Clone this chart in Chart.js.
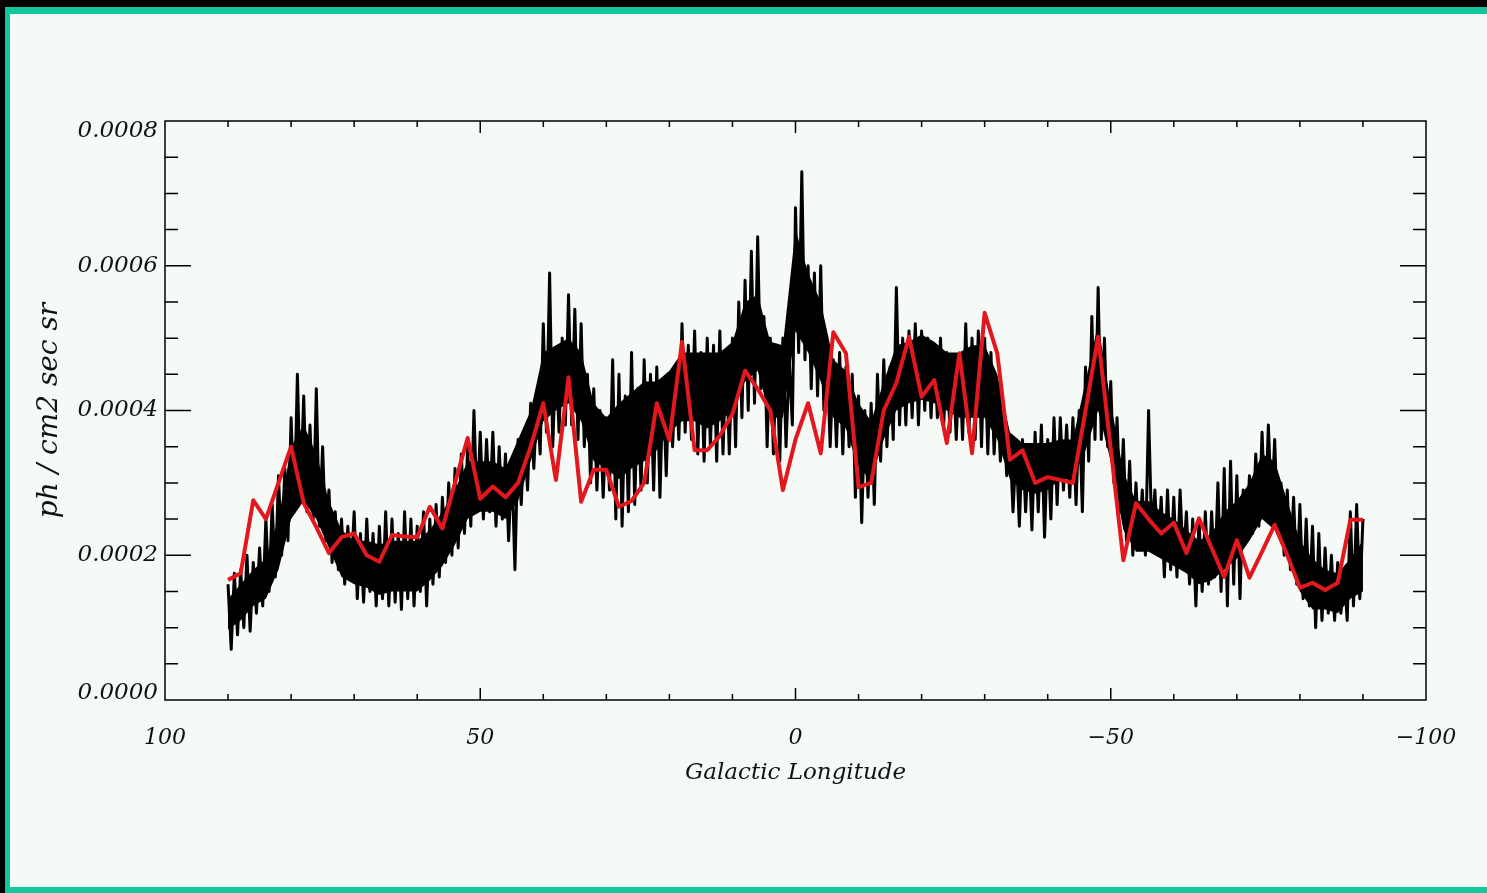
<!DOCTYPE html>
<html lang="en">
<head>
<meta charset="UTF-8">
<title>Galactic Longitude profile</title>
<script src="https://cdn.jsdelivr.net/npm/chart.js"></script>
<style>
  html, body { margin: 0; padding: 0; background: #000; overflow: hidden; }
  .frame {
    position: absolute; left: 5px; top: 7px;
    width: 1482px; height: 886px;
    box-sizing: border-box;
    background: #f5faf6;
    border-top: 7px solid #12c79b;
    border-left: 5px solid #12c79b;
    border-bottom: 6px solid #12c79b;
  }
  #profile { position: absolute; left: 0; top: 0; }
</style>
</head>
<body>
<div class="frame"></div>
<canvas id="profile" width="1487" height="893"></canvas>
<script>
// intensities are in units of 1e-4 ph / cm2 sec sr
const UNIT = 1e-4;

// raw profile, upper and lower swing per degree, l = 90 ... -90
const blackHi = [
  1.6, 1.75, 1.8, 2.0, 1.9, 2.1, 2.5, 2.7, 3.1, 3.2,
  3.9, 4.5, 4.2, 3.8, 4.3, 3.5, 2.9, 2.6, 2.5, 2.4,
  2.6, 2.3, 2.5, 2.3, 2.4, 2.6, 2.5, 2.3, 2.6, 2.5,
  2.4, 2.6, 2.5, 2.7, 2.8, 3.0, 3.2, 3.4, 3.5, 4.0,
  3.7, 3.6, 3.7, 3.5, 3.4, 3.3, 3.6, 3.7, 4.1, 4.2,
  5.2, 5.9, 4.8, 5.0, 5.6, 5.4, 5.2, 4.5, 4.3, 4.0,
  3.9, 4.7, 4.5, 4.2, 4.8, 4.3, 4.7, 4.5, 4.6, 4.4,
  4.5, 4.5, 5.2, 4.9, 5.1, 4.8, 5.0, 4.9, 5.1, 4.8,
  5.0, 5.5, 5.8, 6.2, 6.4, 5.3, 5.0, 4.9, 5.0, 4.7,
  6.8, 7.3, 6.0, 5.9, 6.0, 4.8, 4.7, 4.8, 4.6, 4.5,
  4.2, 4.0, 4.1, 4.5, 4.7, 4.6, 5.7, 5.0, 5.1, 5.2,
  5.1, 5.0, 4.9, 5.0, 4.8, 4.6, 4.7, 5.2, 5.0, 5.1,
  5.0, 4.8, 4.3, 4.0, 3.6, 3.5, 3.6, 3.5, 3.7, 3.8,
  3.6, 3.9, 3.9, 3.8, 3.9, 4.0, 4.6, 5.3, 5.7, 5.0,
  4.4, 3.9, 3.6, 3.3, 3.0, 2.9, 4.0, 2.9, 2.8, 2.9,
  2.8, 2.9, 2.6, 2.5, 2.5, 2.6, 2.6, 3.0, 3.2, 3.3,
  3.1, 2.9, 3.1, 3.4, 3.7, 3.8, 3.6, 3.0, 2.9, 2.8,
  2.7, 2.5, 2.4, 2.3, 2.1, 2.0, 1.9, 1.8, 2.6, 2.7,
  2.5
];
const blackLo = [
  0.7, 0.9, 1.0, 0.95, 1.2, 1.3, 1.5, 1.7, 2.0, 2.2,
  2.6, 2.8, 2.6, 2.5, 2.4, 2.2, 1.9, 1.8, 1.6, 1.7,
  1.4, 1.35, 1.5, 1.3, 1.4, 1.3, 1.35, 1.25, 1.4, 1.3,
  1.5, 1.3, 1.6, 1.7, 1.9, 2.0, 2.1, 2.3, 2.4, 2.6,
  2.5, 2.6, 2.4, 2.5, 2.2, 1.8, 2.7, 2.9, 3.2, 3.4,
  3.7, 3.5, 3.7, 3.8, 3.8, 3.6, 3.5, 3.0, 2.9, 2.8,
  2.9, 2.5, 2.4, 2.6, 2.7, 2.9, 3.0, 2.9, 2.8, 3.1,
  3.5, 3.6, 3.7, 3.6, 3.4, 3.3, 3.5, 3.3, 3.4, 3.4,
  3.5, 3.9, 4.0, 4.1, 4.3, 3.5, 3.4, 3.3, 3.5, 3.8,
  4.8, 4.7, 4.3, 4.2, 4.0, 3.5, 3.5, 3.4, 3.5, 2.8,
  2.45, 2.8, 2.7, 3.3, 3.5, 3.6, 3.8, 3.8, 3.9, 3.8,
  4.0, 3.9, 3.9, 3.8, 3.7, 3.6, 3.6, 3.7, 3.6, 3.5,
  3.4, 3.4, 3.3, 3.1, 2.6, 2.4, 2.6, 2.35, 2.6, 2.25,
  2.5, 2.7, 2.9, 2.8, 2.7, 2.6, 3.3, 3.6, 3.6, 3.5,
  3.0, 2.6, 2.2, 2.0, 2.1, 2.0, 2.3, 2.0, 1.7, 1.8,
  1.7, 1.9, 1.6, 1.3, 1.5, 1.6, 1.7, 1.5, 1.3, 1.6,
  1.4, 2.2, 2.3, 2.4, 2.5, 2.6, 2.3, 2.0, 1.8, 1.6,
  1.4, 1.3, 1.0, 1.1, 1.2, 1.1, 1.2, 1.1, 1.3, 1.4,
  1.4
];

// longitudes of the 2-degree bins, used by the dense core and the smoothed curve
const binLon = [
  90, 88, 86, 84, 82, 80, 78, 76, 74, 72, 70, 68, 66, 64, 62, 60,
  58, 56, 54, 52, 50, 48, 46, 44, 42, 40, 38, 36, 34, 32, 30, 28,
  26, 24, 22, 20, 18, 16, 14, 12, 10, 8, 6, 4, 2, 0,
  -2, -4, -6, -8, -10, -12, -14, -16, -18, -20, -22, -24, -26, -28, -30, -32,
  -34, -36, -38, -40, -42, -44, -46, -48, -50, -52, -54, -56, -58, -60, -62, -64,
  -66, -68, -70, -72, -74, -76, -78, -80, -82, -84, -86, -88, -90
];

// dense core of the raw profile (where the samples pile up)
const coreHi = [
  1.4, 1.6, 1.8, 1.95, 2.5, 3.5, 3.8, 3.4, 2.75, 2.35, 2.2, 2.2, 2.15, 2.2, 2.2, 2.2,
  2.35, 2.6, 2.9, 3.3, 3.3, 3.3, 3.2, 3.6, 4.0, 4.8, 4.9, 5.0, 4.8, 4.1, 3.9, 4.1,
  4.25, 4.4, 4.4, 4.55, 4.8, 4.8, 4.8, 4.8, 4.95, 5.5, 5.6, 4.95, 4.9, 6.5,
  5.9, 5.5, 4.7, 4.55, 4.1, 3.85, 4.4, 4.9, 4.95, 5.05, 4.95, 4.8, 4.8, 4.9, 4.9, 4.5,
  3.7, 3.55, 3.55, 3.55, 3.6, 3.6, 4.4, 5.2, 4.1, 3.15, 2.75, 2.75, 2.6, 2.5, 2.35, 2.2,
  2.3, 2.6, 2.75, 3.0, 3.4, 3.3, 2.75, 2.2, 1.95, 1.8, 1.75, 1.95, 2.2
];
const coreLo = [
  0.97, 1.1, 1.3, 1.4, 1.8, 2.5, 2.75, 2.5, 2.1, 1.7, 1.6, 1.55, 1.45, 1.5, 1.5, 1.5,
  1.65, 1.85, 2.15, 2.5, 2.6, 2.6, 2.5, 2.75, 3.3, 3.85, 4.0, 4.1, 3.85, 3.3, 3.2, 3.05,
  3.2, 3.3, 3.45, 3.7, 3.85, 3.85, 3.75, 3.85, 4.0, 4.4, 4.55, 3.9, 3.9, 5.1,
  4.8, 4.4, 3.9, 3.75, 3.2, 3.05, 3.6, 4.0, 4.1, 4.15, 4.1, 4.0, 3.9, 3.9, 3.9, 3.6,
  3.05, 2.9, 2.85, 2.9, 3.05, 3.05, 3.45, 4.0, 3.3, 2.35, 2.05, 2.05, 1.95, 1.85, 1.75, 1.6,
  1.65, 1.8, 1.95, 2.2, 2.5, 2.35, 1.95, 1.5, 1.25, 1.25, 1.2, 1.4, 1.5
];

// smoothed profile on the same 2-degree bins
const smoothFlux = [
  1.66, 1.75, 2.76, 2.5, 3.0, 3.5, 2.72, 2.39, 2.03, 2.25, 2.3, 2.0, 1.91, 2.28, 2.26, 2.25,
  2.67, 2.37, 3.0, 3.62, 2.78, 2.95, 2.8, 3.0, 3.5, 4.1, 3.04, 4.46, 2.74, 3.18, 3.18, 2.67,
  2.75, 3.0, 4.1, 3.59, 4.95, 3.45, 3.45, 3.65, 3.95, 4.55, 4.3, 4.0, 2.9, 3.6,
  4.1, 3.41, 5.08, 4.79, 2.94, 3.0, 4.0, 4.38, 5.02, 4.19, 4.42, 3.55, 4.79, 3.41, 5.35, 4.79,
  3.32, 3.45, 3.0, 3.08, 3.04, 3.0, 4.0, 5.02, 3.47, 1.93, 2.72, 2.5, 2.3, 2.45, 2.03, 2.51,
  2.1, 1.7, 2.21, 1.69, 2.05, 2.42, 2.0, 1.55, 1.62, 1.52, 1.62, 2.49, 2.49
];

const yTickLabels = ['0.0000', '0.0002', '0.0004', '0.0006', '0.0008'];
const xTickLabels = { '100': '100', '50': '50', '0': '0', '-50': '\u221250', '-100': '\u2212100' };

const FONT = "'DejaVu Serif', 'Liberation Serif', serif";

// raw samples alternate between the upper and lower swing every half degree
const rawPoints = [];
blackHi.forEach((hi, i) => {
  const lon = 90 - i;
  rawPoints.push({ x: lon, y: hi * UNIT });
  if (i < blackHi.length - 1) rawPoints.push({ x: lon - 0.5, y: blackLo[i] * UNIT });
});
const toPoints = vals => binLon.map((lon, i) => ({ x: lon, y: vals[i] * UNIT }));

// box frame, inward ticks on all four sides and the y labels
const boxAxes = {
  id: 'boxAxes',
  afterDraw(chart) {
    const { ctx, chartArea: a, scales: { x, y } } = chart;
    ctx.save();
    ctx.strokeStyle = '#000';
    ctx.lineWidth = 1.5;
    ctx.strokeRect(a.left, a.top, a.right - a.left, a.bottom - a.top);
    ctx.beginPath();
    for (let v = -90; v <= 90; v += 10) {
      const px = x.getPixelForValue(v);
      const len = v % 50 === 0 ? 12 : 6;
      ctx.moveTo(px, a.bottom); ctx.lineTo(px, a.bottom - len);
      ctx.moveTo(px, a.top); ctx.lineTo(px, a.top + len);
    }
    for (let k = 1; k < 16; k++) {
      const py = y.getPixelForValue(k * 0.00005);
      const len = k % 4 === 0 ? 26 : 13;
      ctx.moveTo(a.left, py); ctx.lineTo(a.left + len, py);
      ctx.moveTo(a.right, py); ctx.lineTo(a.right - len, py);
    }
    ctx.stroke();

    ctx.fillStyle = '#111';
    ctx.font = 'italic 23px ' + FONT;
    ctx.textAlign = 'right';
    ctx.textBaseline = 'middle';
    y.ticks.forEach((t, i) => {
      let py = y.getPixelForValue(t.value);
      py = Math.min(Math.max(py, a.top + 10), a.bottom - 7);
      ctx.fillText(yTickLabels[i], a.left - 7, py);
    });
    ctx.restore();
  }
};

new Chart(document.getElementById('profile'), {
  type: 'line',
  data: {
    datasets: [
      {
        label: 'smoothed',
        data: toPoints(smoothFlux),
        borderColor: 'rgb(226, 24, 30)',
        borderWidth: 4,
        borderJoinStyle: 'round',
        pointRadius: 0,
        tension: 0,
        order: 1
      },
      {
        label: 'raw',
        data: rawPoints,
        borderColor: '#000',
        borderWidth: 3,
        borderJoinStyle: 'round',
        pointRadius: 0,
        tension: 0,
        order: 2
      },
      {
        label: 'core upper',
        data: toPoints(coreHi),
        borderWidth: 0,
        backgroundColor: '#000',
        fill: '+1',
        pointRadius: 0,
        tension: 0,
        order: 3
      },
      {
        label: 'core lower',
        data: toPoints(coreLo),
        borderWidth: 0,
        pointRadius: 0,
        tension: 0,
        order: 3
      }
    ]
  },
  options: {
    responsive: false,
    animation: false,
    devicePixelRatio: 1,
    layout: { padding: { top: 121, right: 61, left: 0, bottom: 0 } },
    plugins: { legend: { display: false }, tooltip: { enabled: false } },
    scales: {
      x: {
        type: 'linear',
        min: -100,
        max: 100,
        reverse: true,
        afterFit: s => { s.height = 193; },
        grid: { display: false, drawTicks: false },
        border: { display: false },
        ticks: {
          stepSize: 50,
          padding: 25,
          color: '#111',
          maxRotation: 0,
          font: { family: FONT, size: 22, style: 'italic' },
          callback: v => xTickLabels[String(v)]
        },
        title: {
          display: true,
          text: 'Galactic Longitude',
          color: '#111',
          padding: { top: 0, bottom: 106 },
          font: { family: FONT, size: 23, style: 'italic' }
        }
      },
      y: {
        min: 0,
        max: 0.0008,
        afterFit: s => { s.width = 165; },
        grid: { display: false, drawTicks: false },
        border: { display: false },
        ticks: { stepSize: 0.0002, display: false },
        title: {
          display: true,
          text: 'ph / cm2 sec sr',
          color: '#111',
          padding: { top: 33, bottom: 0 },
          font: { family: FONT, size: 28, style: 'italic' }
        }
      }
    }
  },
  plugins: [boxAxes]
});
</script>
</body>
</html>
